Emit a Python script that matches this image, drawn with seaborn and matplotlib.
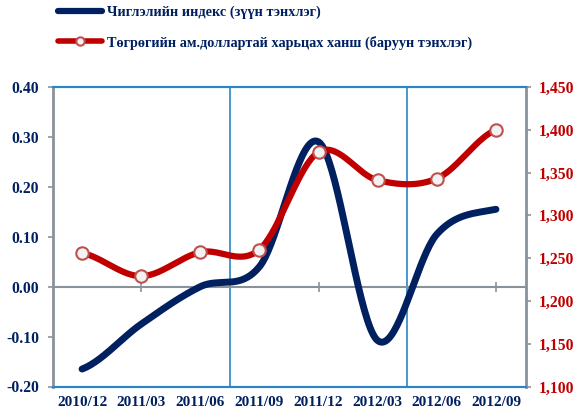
import numpy as np
import pandas as pd
import seaborn as sns
import matplotlib.pyplot as plt
from matplotlib.lines import Line2D
from matplotlib.ticker import FuncFormatter, FixedLocator

# data
periods = ['2010/12', '2011/03', '2011/06', '2011/09',
           '2011/12', '2012/03', '2012/06', '2012/09']
index_values = [-0.165, -0.075, 0.0, 0.04, 0.29, -0.108, 0.105, 0.155]
rate_values = [1256, 1229, 1257, 1260, 1374, 1341, 1343, 1400]
left_ticks = [-0.2, -0.1, 0.0, 0.1, 0.2, 0.3, 0.4]
right_ticks = [1100, 1150, 1200, 1250, 1300, 1350, 1400, 1450]
label_index = 'Чиглэлийн индекс (зүүн тэнхлэг)'
label_rate = 'Төгрөгийн ам.доллартай харьцах ханш (баруун тэнхлэг)'

NAVY = '#002060'
RED = '#c00000'
FRAME = '#2a85c8'
GREY = '#8a9299'


def smooth(values, n=40):
    """Catmull-Rom curve through the points, like spreadsheet smoothed lines."""
    y = np.asarray(values, dtype=float)
    p = np.concatenate([[y[0]], y, [y[-1]]])
    xs, ys = [], []
    for i in range(len(y) - 1):
        p0, p1, p2, p3 = p[i], p[i + 1], p[i + 2], p[i + 3]
        t = np.linspace(0, 1, n, endpoint=(i == len(y) - 2))
        seg = 0.5 * (2 * p1 + (-p0 + p2) * t + (2 * p0 - 5 * p1 + 4 * p2 - p3) * t ** 2
                     + (-p0 + 3 * p1 - 3 * p2 + p3) * t ** 3)
        xs.append(i + t)
        ys.append(seg)
    return pd.DataFrame({'x': np.concatenate(xs), 'y': np.concatenate(ys)})


sns.set_theme(style='white')
plt.rcParams['font.family'] = ['Liberation Serif', 'DejaVu Serif']
plt.rcParams['font.weight'] = 'bold'

fig = plt.figure(figsize=(5.79, 4.16), dpi=100)
ax = fig.add_axes([52.5 / 579, 29.5 / 416, 473 / 579, 299.5 / 416])
ax2 = ax.twinx()

pos = np.arange(len(periods))
idx_df = smooth(index_values)
rate_df = smooth(rate_values)
pts_df = pd.DataFrame({'x': pos, 'y': rate_values})

sns.lineplot(data=idx_df, x='x', y='y', ax=ax, color=NAVY, lw=5,
             sort=False, estimator=None, solid_capstyle='round')
sns.lineplot(data=rate_df, x='x', y='y', ax=ax2, color=RED, lw=4.5,
             sort=False, estimator=None, solid_capstyle='round')
sns.scatterplot(data=pts_df, x='x', y='y', ax=ax2, s=80, color='#f2f2f2',
                edgecolor='#c0504d', linewidth=1.5, zorder=5)

ax.set_xlim(-0.5, len(periods) - 0.5)
ax.set_ylim(-0.2, 0.4)
ax2.set_ylim(1100, 1450)

# vertical separators and zero line
for xv in [2.5, 5.5]:
    ax.axvline(xv, color=FRAME, lw=1.2, zorder=0)
ax.axhline(0, color=GREY, lw=1.5, zorder=0)

ax.set_xticks(pos)
ax.set_xticklabels(periods)
ax.tick_params(axis='x', length=0, pad=7, labelsize=11, labelcolor=NAVY)
ax.set_yticks(left_ticks)
ax.yaxis.set_major_formatter(FuncFormatter(lambda v, _: '%.2f' % v))
ax.tick_params(axis='y', direction='out', length=3.5, width=1.2, color=GREY,
               pad=6, labelsize=11.3, labelcolor=NAVY, left=True)
ax2.set_yticks(right_ticks)
ax2.yaxis.set_major_formatter(FuncFormatter(lambda v, _: '{:,.0f}'.format(v)))
ax2.tick_params(axis='y', direction='out', length=3.5, width=1.2, color=GREY,
                pad=6, labelsize=11.3, labelcolor=RED, right=True)

# small ticks crossing the zero line
sec = ax.secondary_xaxis(1 / 3)
sec.xaxis.set_major_locator(FixedLocator([1, 4, 7]))
sec.tick_params(axis='x', direction='inout', length=7, width=1.2, color=GREY,
                labelbottom=False, labeltop=False)
sec.spines['bottom'].set_visible(False)
sec.spines['top'].set_visible(False)

for a in (ax, ax2):
    a.set_xlabel('')
    a.set_ylabel('')
    for side in ('top', 'bottom'):
        a.spines[side].set_color(FRAME)
        a.spines[side].set_linewidth(1.5)
ax.spines['left'].set_color(GREY)
ax.spines['left'].set_linewidth(2)
ax.spines['right'].set_visible(False)
ax2.spines['left'].set_visible(False)
ax2.spines['right'].set_color(GREY)
ax2.spines['right'].set_linewidth(2)

for lbl in ax.get_xticklabels() + ax.get_yticklabels() + ax2.get_yticklabels():
    lbl.set_fontweight('bold')

handles = [
    Line2D([], [], color=NAVY, lw=4.5, solid_capstyle='round'),
    Line2D([], [], color=RED, lw=4, marker='o', markersize=6,
           markerfacecolor='#f2f2f2', markeredgecolor='#c0504d', markeredgewidth=1.5),
]
fig.legend(handles, [label_index, label_rate], loc='upper left',
           bbox_to_anchor=(58 / 579, 1 - 6 / 416), frameon=False, borderpad=0,
           borderaxespad=0, handlelength=3.1, handletextpad=0.35, labelspacing=1.12,
           prop={'size': 10.3, 'weight': 'bold'}, labelcolor=NAVY)

fig.savefig('out.png', dpi=100)
